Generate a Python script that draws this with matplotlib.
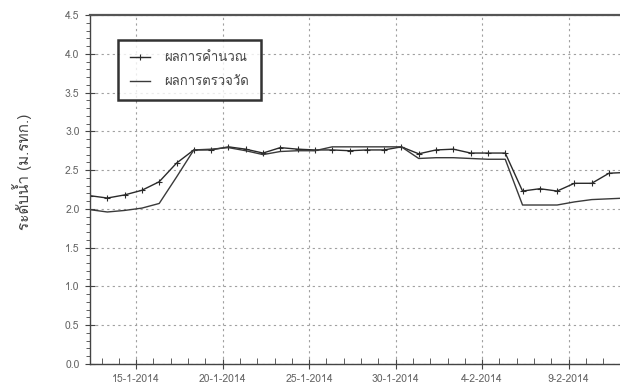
import datetime as dt

import matplotlib
matplotlib.use('Agg')
import matplotlib.pyplot as plt
import matplotlib.dates as mdates
from matplotlib import font_manager
from matplotlib.ft2font import FT2Font
from matplotlib.ticker import MultipleLocator, FormatStrFormatter

# daily readings, 08:00 each day, 12-1-2014 .. 12-2-2014
start = dt.datetime(2014, 1, 12, 8)
days = [start + dt.timedelta(days=i) for i in range(32)]

calculated = [2.17, 2.14, 2.18, 2.24, 2.35, 2.59, 2.76, 2.76, 2.80, 2.77,
              2.72, 2.79, 2.77, 2.76, 2.76, 2.75, 2.76, 2.76, 2.80, 2.71,
              2.76, 2.77, 2.72, 2.72, 2.72, 2.23, 2.26, 2.23, 2.33, 2.33,
              2.46, 2.47]
measured = [1.99, 1.96, 1.98, 2.01, 2.07, 2.41, 2.76, 2.77, 2.79, 2.75,
            2.70, 2.74, 2.75, 2.75, 2.80, 2.80, 2.80, 2.80, 2.80, 2.65,
            2.66, 2.66, 2.65, 2.64, 2.64, 2.05, 2.05, 2.05, 2.09, 2.12,
            2.13, 2.14]

label_calc = 'ผลการคำนวณ'
label_meas = 'ผลการตรวจวัด'
y_label = 'ระดับน้ำ (ม.รทก.)'


# pick an installed font that has Thai glyphs
def thai_font():
    for f in font_manager.fontManager.ttflist:
        try:
            if 0x0E1C in FT2Font(f.fname).get_charmap():
                return f.name
        except Exception:
            pass
    return 'DejaVu Sans'


thai = thai_font()
plt.rcParams['font.family'] = [thai, 'DejaVu Sans']

fig = plt.figure(figsize=(6.2, 3.9), dpi=100)
ax = fig.add_axes([90 / 620, 26 / 390, 1.02 - 90 / 620, 349 / 390])

ax.plot(days, calculated, color='#2a2a2a', lw=1.0, marker='+', ms=4,
        mew=0.8, label=label_calc)
ax.plot(days, measured, color='#3a3a3a', lw=1.0, label=label_meas)

ax.set_ylim(0, 4.5)
ax.set_xlim(start, start + dt.timedelta(days=31.35))

ax.xaxis.set_major_locator(mdates.DayLocator(bymonthday=[4, 9, 15, 20, 25, 30]))
ax.xaxis.set_major_formatter(mdates.DateFormatter('%-d-%-m-%Y'))
ax.xaxis.set_minor_locator(mdates.DayLocator())
ax.yaxis.set_major_locator(MultipleLocator(0.5))
ax.yaxis.set_minor_locator(MultipleLocator(0.1))
ax.yaxis.set_major_formatter(FormatStrFormatter('%.1f'))

ax.grid(True, which='major', ls=(0, (2, 3)), color='#a0a0a0', lw=0.8)
ax.tick_params(which='both', colors='#444444', labelcolor='#666666',
               labelsize=7.5)
ax.tick_params(which='major', direction='inout', length=7, width=0.8)
ax.tick_params(axis='y', which='minor', direction='out', length=3, width=0.6)
ax.tick_params(axis='x', which='minor', direction='in', length=4, width=0.6)
ax.tick_params(axis='x', pad=4)
ax.tick_params(axis='y', pad=4)

ax.spines['right'].set_visible(False)
ax.spines['top'].set_color('#555555')
ax.spines['top'].set_linewidth(1.6)
for s in ('left', 'bottom'):
    ax.spines[s].set_color('#444444')
    ax.spines[s].set_linewidth(1.0)

ax.set_ylabel(y_label, fontsize=11, color='#444444')
ax.yaxis.set_label_coords(-0.107, 0.55)

leg = ax.legend(loc='upper left', bbox_to_anchor=(0.0516, 0.928),
                borderaxespad=0, fancybox=False, numpoints=1, fontsize=9.5,
                handlelength=1.5, borderpad=0.9, labelspacing=0.9,
                handletextpad=1.1)
leg.get_frame().set_edgecolor('black')
leg.get_frame().set_linewidth(1.8)
for t in leg.get_texts():
    t.set_color('#444444')

fig.savefig('out.png', dpi=100)
